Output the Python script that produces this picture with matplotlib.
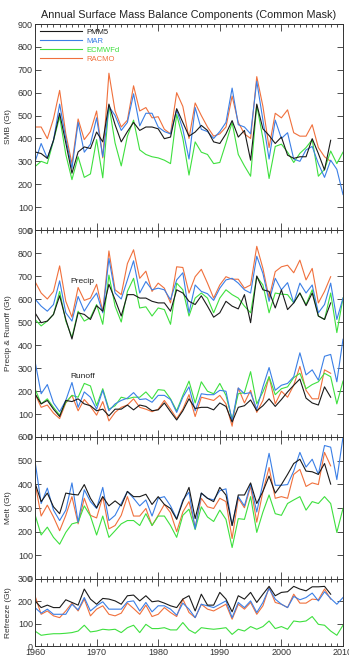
"""
Annual surface mass balance components (common mask) - four stacked panels.
"""

import numpy as np
import matplotlib
matplotlib.use('Agg')
import matplotlib.pyplot as plt
from matplotlib.ticker import MultipleLocator

nan = np.nan
years = np.arange(1960, 2011)

# ─── SMB ─────────────────────────────────────────────────────────────────────
smb_pmm5 = [341, 334, 313, 392, 510, 380, 248, 341, 363, 356,
            428, 385, 550, 460, 385, 430, 470, 435, 450, 450,
            442, 399, 406, 530, 470, 410, 428, 457, 435, 385,
            378, 420, 478, 406, 435, 305, 550, 442, 413, 378,
            406, 327, 313, 320, 320, 399, 334, 262, 392, nan, nan]
smb_mar = [298, 378, 313, 392, 550, 400, 270, 470, 340, 375,
           490, 320, 540, 500, 435, 470, 595, 455, 510, 510,
           450, 430, 420, 525, 440, 310, 535, 440, 430, 400,
           430, 470, 620, 460, 450, 420, 650, 480, 310, 480,
           400, 425, 310, 300, 350, 365, 290, 230, 305, 265, 155]
smb_ecmwf = [277, 300, 290, 390, 495, 330, 220, 320, 230, 245,
             395, 228, 545, 380, 280, 410, 480, 350, 330, 320,
             315, 305, 290, 505, 400, 240, 385, 340, 330, 290,
             295, 380, 470, 330, 280, 235, 545, 400, 225, 365,
             375, 340, 295, 335, 360, 395, 235, 265, 345, 290, 340]
smb_racmo = [450, 450, 399, 486, 610, 420, 290, 485, 395, 430,
             520, 315, 685, 520, 450, 480, 630, 520, 535, 490,
             495, 440, 420, 600, 540, 400, 555, 500, 450, 410,
             420, 450, 585, 470, 420, 400, 670, 540, 360, 510,
             490, 525, 425, 410, 410, 460, 360, 320, 300, nan, nan]

# ─── Precipitation ───────────────────────────────────────────────────────────
pr_pmm5 = [540, 497, 504, 533, 614, 511, 426, 540, 533, 511,
           571, 547, 664, 597, 526, 619, 619, 604, 604, 590,
           583, 583, 547, 640, 626, 590, 576, 614, 569, 521,
           540, 590, 569, 557, 619, 497, 700, 640, 633, 561,
           640, 554, 583, 626, 571, 626, 526, 511, 583, nan, nan]
pr_mar = [600, 569, 547, 576, 679, 540, 504, 611, 547, 590,
          626, 540, 776, 626, 600, 683, 766, 626, 676, 640,
          647, 640, 597, 683, 714, 540, 661, 633, 623, 594,
          647, 683, 690, 669, 640, 626, 786, 711, 590, 690,
          640, 671, 583, 669, 626, 661, 540, 576, 669, 511, 604]
pr_ecmwf = [511, 483, 504, 533, 633, 504, 433, 547, 504, 519,
            576, 490, 704, 569, 500, 633, 690, 561, 566, 526,
            561, 554, 490, 669, 640, 526, 604, 626, 604, 540,
            604, 640, 619, 604, 569, 540, 697, 661, 540, 626,
            621, 619, 583, 626, 576, 640, 526, 511, 626, 454, 604]
pr_racmo = [676, 626, 600, 633, 744, 590, 521, 650, 594, 604,
            664, 545, 809, 640, 619, 754, 814, 690, 721, 633,
            669, 647, 583, 740, 737, 626, 697, 729, 669, 604,
            661, 697, 686, 686, 647, 661, 829, 733, 604, 719,
            740, 747, 714, 769, 683, 733, 583, 633, 697, nan, nan]

# ─── Runoff ──────────────────────────────────────────────────────────────────
ro_pmm5 = [188, 144, 159, 121, 89, 159, 154, 166, 144, 136,
           114, 121, 92, 121, 121, 139, 118, 139, 133, 114,
           118, 148, 110, 74, 114, 166, 124, 129, 129, 118,
           148, 133, 65, 129, 136, 161, 114, 136, 166, 133,
           163, 196, 225, 252, 169, 148, 139, 218, 173, nan, nan]
ro_mar = [329, 188, 228, 148, 110, 159, 237, 129, 196, 173,
          121, 203, 114, 144, 159, 169, 193, 163, 166, 151,
          181, 181, 163, 107, 173, 218, 114, 188, 184, 184,
          203, 199, 70, 213, 188, 193, 121, 218, 302, 203,
          225, 233, 262, 366, 270, 292, 247, 351, 359, 240, 425]
ro_ecmwf = [210, 144, 166, 129, 95, 151, 181, 173, 233, 222,
            136, 210, 121, 136, 173, 166, 173, 173, 196, 166,
            206, 203, 166, 114, 181, 243, 148, 240, 199, 188,
            233, 181, 77, 188, 193, 284, 144, 196, 262, 184,
            210, 218, 258, 277, 210, 228, 240, 277, 262, 144, 243]
ro_racmo = [188, 129, 139, 104, 80, 148, 181, 114, 163, 133,
            95, 154, 70, 107, 129, 139, 166, 129, 121, 110,
            121, 159, 121, 80, 121, 184, 89, 173, 166, 159,
            181, 144, 47, 213, 148, 203, 107, 159, 262, 144,
            199, 173, 225, 307, 203, 166, 166, 292, 277, nan, nan]

# ─── Melt ────────────────────────────────────────────────────────────────────
me_pmm5 = [406, 327, 363, 305, 276, 363, 358, 355, 399, 341,
           301, 348, 309, 330, 309, 370, 348, 348, 358, 315,
           348, 315, 298, 252, 327, 387, 255, 363, 341, 327,
           387, 355, 226, 355, 355, 406, 319, 370, 435, 363,
           399, 442, 488, 506, 456, 453, 442, 488, 401, nan, nan]
me_mar = [499, 319, 384, 291, 247, 291, 406, 240, 377, 327,
          298, 387, 247, 269, 319, 370, 341, 309, 334, 266,
          341, 348, 309, 255, 334, 367, 212, 363, 341, 334,
          373, 381, 226, 348, 309, 401, 283, 406, 531, 396,
          396, 399, 456, 535, 473, 506, 442, 564, 557, 420, 600]
me_ecmwf = [272, 186, 219, 176, 147, 197, 233, 240, 309, 266,
            186, 266, 176, 204, 233, 247, 247, 226, 276, 226,
            266, 266, 226, 176, 269, 295, 209, 305, 262, 243,
            291, 252, 133, 255, 252, 348, 197, 283, 355, 276,
            269, 319, 334, 348, 291, 327, 319, 348, 319, 197, 298]
me_racmo = [406, 266, 312, 262, 204, 269, 348, 233, 341, 269,
            258, 348, 212, 226, 269, 348, 266, 266, 298, 226,
            269, 315, 280, 200, 283, 327, 219, 341, 305, 298,
            341, 327, 171, 341, 301, 391, 240, 370, 471, 341,
            348, 341, 442, 463, 391, 406, 399, 535, 478, nan, nan]

# ─── Refreeze ────────────────────────────────────────────────────────────────
rf_pmm5 = [202, 172, 183, 172, 172, 207, 195, 183, 255, 210,
           187, 213, 210, 202, 187, 225, 228, 202, 225, 198,
           202, 192, 180, 172, 210, 225, 157, 232, 183, 183,
           240, 210, 153, 225, 210, 240, 195, 232, 267, 225,
           240, 243, 267, 255, 247, 265, 265, 267, 232, nan, nan]
rf_mar = [172, 147, 165, 142, 142, 142, 187, 162, 217, 157,
          180, 198, 165, 165, 165, 198, 202, 157, 195, 153,
          180, 180, 165, 138, 192, 165, 127, 187, 180, 172,
          187, 202, 127, 195, 172, 202, 150, 195, 258, 210,
          187, 172, 222, 207, 217, 237, 202, 243, 213, 187, 217]
rf_ecmwf = [67, 48, 52, 55, 55, 57, 60, 67, 93, 63,
            67, 75, 72, 75, 60, 82, 93, 60, 97, 78,
            78, 82, 72, 72, 105, 72, 57, 82, 78, 75,
            78, 82, 52, 75, 67, 87, 75, 87, 112, 78,
            87, 75, 112, 108, 112, 132, 97, 93, 67, 48, 93]
rf_racmo = [225, 142, 157, 135, 127, 157, 192, 157, 210, 135,
            165, 180, 142, 135, 147, 192, 168, 142, 183, 132,
            142, 172, 150, 132, 210, 150, 127, 187, 165, 157,
            172, 187, 120, 187, 165, 195, 142, 180, 262, 195,
            187, 172, 232, 192, 192, 210, 207, 255, 210, nan, nan]

models = ['PMM5', 'MAR', 'ECMWFd', 'RACMO']
colors = ['#1a1a1a', '#3a7fe6', '#3ee03e', '#f0703c']

panels = [
    ('SMB (Gt)', 900, [[smb_pmm5, smb_mar, smb_ecmwf, smb_racmo]]),
    ('Precip & Runoff (Gt)', 900, [[pr_pmm5, pr_mar, pr_ecmwf, pr_racmo],
                                   [ro_pmm5, ro_mar, ro_ecmwf, ro_racmo]]),
    ('Melt (Gt)', 600, [[me_pmm5, me_mar, me_ecmwf, me_racmo]]),
    ('Refreeze (Gt)', 300, [[rf_pmm5, rf_mar, rf_ecmwf, rf_racmo]]),
]

plt.rcParams['font.family'] = ['Liberation Sans', 'DejaVu Sans']

W, H = 349, 668
fig = plt.figure(figsize=(W / 100, H / 100), dpi=100)

# límites de los paneles en píxeles (arriba, abajo)
edges = [(24, 230), (230, 437), (437, 579), (579, 646)]
left, right = 35, 343

axes = []
for (label, ymax, groups), (top, bot) in zip(panels, edges):
    ax = fig.add_axes([left / W, 1 - bot / H, (right - left) / W, (bot - top) / H])
    for group in groups:
        # dibujar en orden inverso para que PMM5 quede encima
        for vals, c, name in reversed(list(zip(group, colors, models))):
            ax.plot(years, vals, color=c, lw=0.8, label=name)
    ax.set_xlim(1960, 2010)
    ax.set_ylim(0, ymax)
    ax.yaxis.set_major_locator(MultipleLocator(100))
    ax.xaxis.set_major_locator(MultipleLocator(10))
    ax.xaxis.set_minor_locator(MultipleLocator(1))
    ax.tick_params(axis='both', which='both', direction='in',
                   top=True, right=True, labelsize=6.5, width=0.6,
                   colors='#333333', pad=1.5)
    ax.tick_params(axis='y', which='major', length=4)
    ax.tick_params(axis='x', which='major', length=5)
    ax.tick_params(axis='x', which='minor', length=2.5)
    for s in ax.spines.values():
        s.set_linewidth(0.7)
        s.set_color('#333333')
    ax.set_ylabel(label, fontsize=6, color='#333333')
    ax.yaxis.set_label_coords(-23 / (right - left), 0.5)
    # la etiqueta "0" va un poco más arriba, como en el original
    ax.get_yticklabels()[0].set_verticalalignment('bottom')
    axes.append(ax)

for ax in axes[:-1]:
    ax.tick_params(axis='x', labelbottom=False)

# leyenda con texto del color de cada serie
h, l = axes[0].get_legend_handles_labels()
order = [l.index(m) for m in models]
leg = axes[0].legend([h[i] for i in order], [l[i] for i in order],
                     loc='upper left', frameon=False, fontsize=5.5,
                     handlelength=5.5, handletextpad=0.6, labelspacing=0.2,
                     borderaxespad=0.2, labelcolor='linecolor')

axes[1].text(1965.8, 674, 'Precip', fontsize=6, color='#222222', va='center')
axes[1].text(1965.8, 261, 'Runoff', fontsize=6, color='#222222', va='center')

fig.text(0.54, 1 - 15 / H, 'Annual Surface Mass Balance Components (Common Mask)',
         ha='center', va='center', fontsize=7.8, color='#222222')

fig.savefig('out.png', dpi=100)
